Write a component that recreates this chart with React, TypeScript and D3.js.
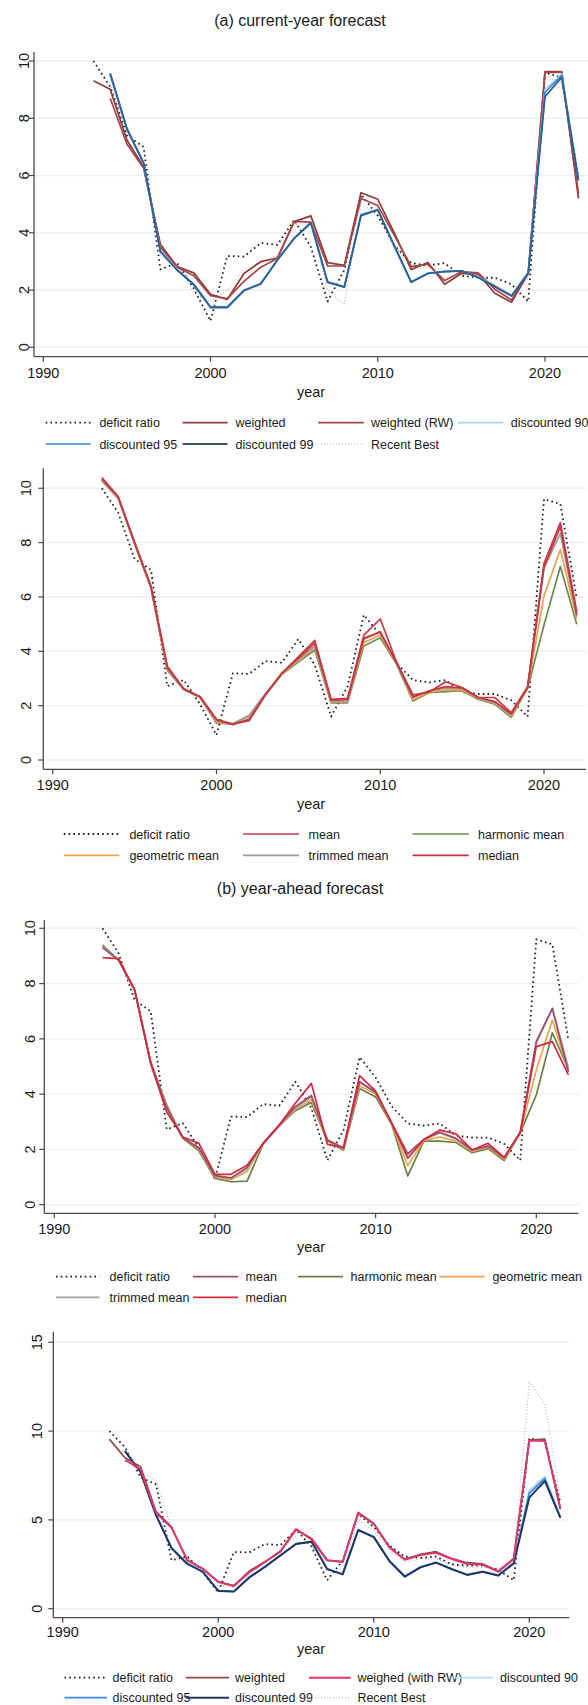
import React from "react";
import * as d3 from "d3";

const years = d3.range(1993, 2023);

const deficitRatio = [10.0, 9.1, 7.4, 7.0, 2.72, 2.95, 2.05, 0.92, 3.19, 3.17, 3.64, 3.58, 4.45, 3.5, 1.6, 2.7, 5.34, 4.6, 3.56, 2.94, 2.86, 2.94, 2.5, 2.43, 2.43, 2.2, 1.6, 9.6, 9.42, 5.95];

// (a) current-year forecast — panel 1
const cyWeighted = [9.31, 9.01, 7.24, 6.3, 3.6, 2.82, 2.6, 1.85, 1.67, 2.58, 2.99, 3.12, 4.39, 4.59, 2.96, 2.86, 5.4, 5.17, 3.98, 2.72, 2.96, 2.2, 2.58, 2.56, 1.89, 1.57, 2.58, 9.63, 9.63, 5.2];
const cyWeightedRW = [null, 8.7, 7.1, 6.25, 3.5, 2.8, 2.5, 1.8, 1.7, 2.3, 2.8, 3.1, 4.4, 4.37, 2.84, 2.84, 5.2, 4.95, 3.9, 2.82, 2.9, 2.33, 2.64, 2.6, 2.03, 1.65, 2.62, 9.6, 9.6, 5.38];
const cyDisc90 = [null, 9.5, 7.6, 6.4, 3.38, 2.72, 2.22, 1.43, 1.42, 2.0, 2.24, 3.06, 3.8, 4.34, 2.3, 2.12, 4.65, 4.82, 3.55, 2.3, 2.6, 2.65, 2.67, 2.46, 2.15, 1.82, 2.62, 9.0, 9.55, 5.88];
const cyDisc95 = [null, 9.55, 7.62, 6.42, 3.36, 2.7, 2.2, 1.41, 1.4, 1.99, 2.22, 3.05, 3.8, 4.35, 2.28, 2.11, 4.62, 4.8, 3.53, 2.28, 2.58, 2.64, 2.67, 2.45, 2.13, 1.8, 2.6, 8.9, 9.5, 5.85];
const cyDisc99 = [null, 9.57, 7.65, 6.43, 3.34, 2.7, 2.18, 1.39, 1.39, 1.98, 2.21, 3.05, 3.81, 4.35, 2.27, 2.1, 4.6, 4.8, 3.52, 2.27, 2.58, 2.64, 2.67, 2.44, 2.12, 1.79, 2.58, 8.75, 9.43, 5.82];
const cyRecentBest = [null, 9.2, 7.5, 6.6, 3.2, 2.9, 1.9, 1.6, 2.0, 2.7, 3.0, 3.2, 4.3, 4.3, 2.0, 1.5, 5.0, 4.6, 3.6, 2.7, 2.8, 2.7, 2.6, 2.5, 2.2, 1.8, 2.4, 9.5, 9.2, 5.9];

// (a) current-year forecast — panel 2
const cyMean = [10.4, 9.7, 8.0, 6.4, 3.45, 2.62, 2.33, 1.5, 1.32, 1.45, 2.4, 3.2, 3.8, 4.4, 2.23, 2.27, 4.6, 5.19, 3.6, 2.4, 2.5, 2.88, 2.67, 2.3, 2.3, 1.74, 2.7, 7.24, 8.74, 5.46];
const cyHarmonic = [10.28, 9.63, 7.96, 6.33, 3.3, 2.59, 2.3, 1.35, 1.33, 1.6, 2.4, 3.15, 3.6, 4.05, 2.1, 2.1, 4.2, 4.5, 3.52, 2.17, 2.48, 2.52, 2.55, 2.23, 2.05, 1.57, 2.64, 4.97, 7.12, 5.0];
const cyGeometric = [10.3, 9.65, 7.98, 6.35, 3.32, 2.6, 2.31, 1.38, 1.33, 1.62, 2.43, 3.17, 3.65, 4.15, 2.13, 2.13, 4.32, 4.6, 3.55, 2.22, 2.5, 2.58, 2.58, 2.26, 2.08, 1.62, 2.66, 6.04, 7.75, 5.2];
const cyTrimmed = [10.3, 9.65, 7.98, 6.35, 3.35, 2.6, 2.32, 1.42, 1.33, 1.65, 2.45, 3.18, 3.7, 4.2, 2.15, 2.15, 4.45, 4.69, 3.56, 2.3, 2.55, 2.64, 2.64, 2.28, 2.1, 1.66, 2.68, 7.06, 8.34, 5.3];
const cyMedian = [10.35, 9.68, 8.0, 6.38, 3.4, 2.62, 2.33, 1.48, 1.3, 1.5, 2.42, 3.2, 3.75, 4.3, 2.2, 2.22, 4.48, 4.72, 3.58, 2.32, 2.55, 2.7, 2.65, 2.3, 2.15, 1.7, 2.68, 7.1, 8.6, 5.35];

// (b) year-ahead forecast — panel 3
const yaMean = [9.3, 8.85, 7.77, 5.15, 3.5, 2.42, 2.05, 1.05, 0.97, 1.35, 2.22, 2.88, 3.55, 3.95, 2.33, 2.05, 4.45, 4.07, 2.95, 1.85, 2.36, 2.62, 2.4, 1.98, 2.12, 1.7, 2.62, 5.9, 7.1, 4.8];
const yaHarmonic = [9.4, 8.85, 7.77, 5.15, 3.6, 2.4, 1.95, 0.95, 0.83, 0.85, 2.2, 2.85, 3.4, 3.7, 2.3, 1.97, 4.2, 3.9, 2.9, 1.04, 2.3, 2.3, 2.25, 1.88, 2.03, 1.6, 2.6, 3.97, 6.22, 4.9];
const yaGeometric = [9.35, 8.85, 7.77, 5.15, 3.55, 2.42, 2.0, 1.0, 0.9, 1.2, 2.22, 2.87, 3.45, 3.8, 2.32, 2.0, 4.3, 4.0, 2.92, 1.41, 2.33, 2.45, 2.3, 1.93, 2.08, 1.65, 2.6, 4.87, 6.68, 4.85];
const yaTrimmed = [9.35, 8.85, 7.77, 5.15, 3.5, 2.42, 2.05, 1.03, 0.95, 1.3, 2.22, 2.88, 3.5, 3.9, 2.36, 2.05, 4.43, 4.05, 2.95, 1.8, 2.36, 2.6, 2.38, 1.98, 2.12, 1.7, 2.62, 5.86, 7.1, 4.95];
const yaMedian = [8.94, 8.9, 7.77, 5.1, 3.35, 2.45, 2.22, 1.1, 1.1, 1.43, 2.22, 2.88, 3.67, 4.39, 2.18, 2.06, 4.67, 4.11, 2.95, 1.68, 2.36, 2.7, 2.56, 1.98, 2.22, 1.71, 2.6, 5.72, 5.9, 4.7];

// (b) year-ahead forecast — panel 4
const yaWeighted = [9.55, 8.5, 8.0, 5.46, 4.6, 2.72, 2.27, 1.52, 1.3, 2.12, 2.65, 3.2, 4.45, 3.96, 2.74, 2.65, 5.42, 4.8, 3.49, 2.78, 3.06, 3.21, 2.83, 2.59, 2.52, 2.12, 2.83, 9.5, 9.55, 5.65];
const yaWeightedRW = [null, 8.37, 7.86, 5.4, 4.55, 2.75, 2.25, 1.5, 1.28, 2.05, 2.62, 3.25, 4.48, 3.9, 2.72, 2.62, 5.38, 4.78, 3.45, 2.75, 3.02, 3.15, 2.8, 2.52, 2.48, 2.08, 2.8, 9.45, 9.45, 5.6];
const yaDisc90 = [null, 8.9, 7.72, 5.3, 3.45, 2.55, 2.1, 1.02, 0.98, 1.78, 2.38, 3.02, 3.66, 3.8, 2.26, 1.96, 4.45, 4.06, 2.72, 1.84, 2.36, 2.62, 2.26, 1.93, 2.1, 1.9, 2.6, 6.68, 7.43, 5.14];
const yaDisc95 = [null, 8.88, 7.71, 5.28, 3.42, 2.54, 2.09, 1.01, 0.97, 1.77, 2.37, 3.01, 3.65, 3.78, 2.24, 1.94, 4.44, 4.05, 2.7, 1.82, 2.34, 2.6, 2.24, 1.91, 2.09, 1.88, 2.57, 6.5, 7.34, 5.13];
const yaDisc99 = [null, 8.87, 7.7, 5.27, 3.4, 2.53, 2.08, 1.0, 0.96, 1.76, 2.35, 3.0, 3.64, 3.77, 2.23, 1.93, 4.43, 4.03, 2.68, 1.8, 2.33, 2.59, 2.23, 1.9, 2.08, 1.86, 2.55, 6.25, 7.19, 5.12];
const yaRecentBest = [null, 8.9, 7.8, 7.2, 4.5, 2.9, 2.2, 1.3, 1.2, 1.9, 2.6, 3.3, 4.1, 4.5, 2.2, 2.1, 5.0, 4.4, 3.3, 2.6, 2.8, 2.8, 2.5, 2.3, 2.3, 2.3, 2.6, 12.8, 11.5, 6.2];

const xTicks = [1990, 2000, 2010, 2020];
const yTicks10 = [0, 2, 4, 6, 8, 10];
const yTicks15 = [0, 5, 10, 15];

const FONT = "'Liberation Sans', Arial, Helvetica, sans-serif";

type Style = { color: string; width: number; dash?: string };
type Series = { label: string; values: (number | null)[]; style: Style };

const S = {
  deficit: { color: "#1e1e1e", width: 1.8, dash: "1.6 3.2" },
  recent: { color: "#bdbdbd", width: 1.2, dash: "1 2" },
};

type PanelCfg = {
  x0: number; x2020: number; xAxisY: number; yAxisX: number; axisTop: number; right: number;
  yDomain: [number, number]; yBottom: number; yTop: number; yTicks: number[];
  yLabelX: number; xLabelY: number; yearY: number;
  series: Series[];
  legend: { rows: number[]; cols: [number, number, number][]; items: Series[] };
};

function Panel({ cfg }: { cfg: PanelCfg }) {
  const x = d3.scaleLinear().domain([1990, 2020]).range([cfg.x0, cfg.x2020]);
  const y = d3.scaleLinear().domain(cfg.yDomain).range([cfg.yBottom, cfg.yTop]);
  const line = d3
    .line<number | null>()
    .defined((d) => d != null)
    .x((_, i) => x(years[i]))
    .y((d) => y(d as number));
  return (
    <g>
      {cfg.yTicks.map((t) => (
        <line key={"g" + t} x1={cfg.yAxisX} x2={cfg.right} y1={y(t)} y2={y(t)} stroke="#eceff3" strokeWidth={1.4} />
      ))}
      {cfg.series.map((s) => (
        <path
          key={s.label}
          d={line(s.values) || ""}
          fill="none"
          stroke={s.style.color}
          strokeWidth={s.style.width}
          strokeDasharray={s.style.dash}
          strokeLinejoin="round"
        />
      ))}
      <line x1={cfg.yAxisX} x2={cfg.yAxisX} y1={cfg.axisTop} y2={cfg.xAxisY} stroke="#4a4a4a" strokeWidth={1.3} />
      <line x1={cfg.yAxisX} x2={cfg.right} y1={cfg.xAxisY} y2={cfg.xAxisY} stroke="#4a4a4a" strokeWidth={1.3} />
      {cfg.yTicks.map((t) => (
        <g key={"y" + t}>
          <line x1={cfg.yAxisX - 5} x2={cfg.yAxisX} y1={y(t)} y2={y(t)} stroke="#4a4a4a" strokeWidth={1.2} />
          <text
            transform={`translate(${cfg.yLabelX},${y(t)}) rotate(-90)`}
            textAnchor="middle"
            dy="0.36em"
            fontSize={14.5}
            fill="#1a1a1a"
            fontFamily={FONT}
          >
            {t}
          </text>
        </g>
      ))}
      {xTicks.map((t) => (
        <g key={"x" + t}>
          <line x1={x(t)} x2={x(t)} y1={cfg.xAxisY} y2={cfg.xAxisY + 5} stroke="#4a4a4a" strokeWidth={1.2} />
          <text x={x(t)} y={cfg.xLabelY} dy="0.36em" textAnchor="middle" fontSize={14.5} fill="#1a1a1a" fontFamily={FONT}>
            {t}
          </text>
        </g>
      ))}
      <text x={311} y={cfg.yearY} dy="0.36em" textAnchor="middle" fontSize={14.5} fill="#1a1a1a" fontFamily={FONT}>
        year
      </text>
      {cfg.legend.items.map((s, i) => {
        const row = Math.floor(i / cfg.legend.cols.length);
        const col = i % cfg.legend.cols.length;
        const [lx1, lx2, tx] = cfg.legend.cols[col];
        const ly = cfg.legend.rows[row];
        return (
          <g key={"l" + s.label}>
            <line x1={lx1} x2={lx2} y1={ly} y2={ly} stroke={s.style.color} strokeWidth={s.style.width} strokeDasharray={s.style.dash} />
            <text x={tx} y={ly} dy="0.36em" fontSize={12.5} fill="#1a1a1a" fontFamily={FONT}>
              {s.label}
            </text>
          </g>
        );
      })}
    </g>
  );
}

const dr: Series = { label: "deficit ratio", values: deficitRatio, style: S.deficit };

const W = 1.7;

const p1Series: Series[] = [
  { label: "Recent Best", values: cyRecentBest, style: S.recent },
  dr,
  { label: "weighted", values: cyWeighted, style: { color: "#8e3b3d", width: W } },
  { label: "weighted (RW)", values: cyWeightedRW, style: { color: "#a54548", width: W } },
  { label: "discounted 90", values: cyDisc90, style: { color: "#a9d3e8", width: W } },
  { label: "discounted 95", values: cyDisc95, style: { color: "#3d87cc", width: W } },
  { label: "discounted 99", values: cyDisc99, style: { color: "#2f5f93", width: 1.8 } },
];
const p1Legend = [dr, p1Series[2], p1Series[3], p1Series[4], p1Series[5],
  { ...p1Series[6], style: { color: "#434f66", width: 2 } }, p1Series[0]];

const p2Series: Series[] = [
  dr,
  { label: "harmonic mean", values: cyHarmonic, style: { color: "#6f8a4c", width: W } },
  { label: "geometric mean", values: cyGeometric, style: { color: "#eba24f", width: W } },
  { label: "trimmed mean", values: cyTrimmed, style: { color: "#9a9a9a", width: W } },
  { label: "median", values: cyMedian, style: { color: "#c8323f", width: W } },
  { label: "mean", values: cyMean, style: { color: "#c63a44", width: W } },
];
const p2Legend = [dr, p2Series[5], p2Series[1], p2Series[2], p2Series[3], p2Series[4]];

const p3Series: Series[] = [
  dr,
  { label: "harmonic mean", values: yaHarmonic, style: { color: "#6b7f47", width: W } },
  { label: "geometric mean", values: yaGeometric, style: { color: "#eaa553", width: W } },
  { label: "trimmed mean", values: yaTrimmed, style: { color: "#a0a0a0", width: W } },
  { label: "mean", values: yaMean, style: { color: "#9c4f6a", width: W } },
  { label: "median", values: yaMedian, style: { color: "#d4283f", width: W } },
];
const p3Legend = [dr, p3Series[4], p3Series[1], p3Series[2], p3Series[3], p3Series[5]];

const p4Series: Series[] = [
  { label: "Recent Best", values: yaRecentBest, style: S.recent },
  dr,
  { label: "discounted 90", values: yaDisc90, style: { color: "#b6dcf2", width: 1.8 } },
  { label: "discounted 95", values: yaDisc95, style: { color: "#3b8be0", width: 1.8 } },
  { label: "discounted 99", values: yaDisc99, style: { color: "#23355e", width: 1.9 } },
  { label: "weighted", values: yaWeighted, style: { color: "#8b4a4c", width: W } },
  { label: "weighed (with RW)", values: yaWeightedRW, style: { color: "#e0356b", width: 1.9 } },
];
const p4Legend = [dr, p4Series[5], p4Series[6], p4Series[2], p4Series[3], p4Series[4], p4Series[0]];

const panels: PanelCfg[] = [
  {
    x0: 43.3, x2020: 545, xAxisY: 356.7, yAxisX: 34, axisTop: 51.7, right: 588,
    yDomain: [0, 10], yBottom: 347.3, yTop: 61, yTicks: yTicks10,
    yLabelX: 24, xLabelY: 373, yearY: 391.7,
    series: p1Series,
    legend: { rows: [422.7, 444], cols: [[45.7, 90.7, 99.4], [182.6, 227.6, 235.5], [318, 363.7, 371], [458, 503, 510.7]], items: p1Legend },
  },
  {
    x0: 52.7, x2020: 544, xAxisY: 769.3, yAxisX: 43.3, axisTop: 468.3, right: 586,
    yDomain: [0, 10], yBottom: 760, yTop: 488.3, yTicks: yTicks10,
    yLabelX: 25.7, xLabelY: 785, yearY: 803.3,
    series: p2Series,
    legend: { rows: [834, 855.3], cols: [[63.75, 119.25, 129.4], [243, 299, 308.6], [412.5, 468.75, 478]], items: p2Legend },
  },
  {
    x0: 54.3, x2020: 536.3, xAxisY: 1213.3, yAxisX: 44.3, axisTop: 920, right: 578.3,
    yDomain: [0, 10], yBottom: 1204.7, yTop: 928.3, yTicks: yTicks10,
    yLabelX: 30, xLabelY: 1229, yearY: 1246.7,
    series: p3Series,
    legend: { rows: [1276.7, 1297.3], cols: [[56, 99.4, 109.5], [193, 238, 245.6], [298, 343, 350.6], [439.5, 484.5, 492.4]], items: p3Legend },
  },
  {
    x0: 62.7, x2020: 529.3, xAxisY: 1617.7, yAxisX: 53.3, axisTop: 1331.7, right: 569.3,
    yDomain: [0, 15], yBottom: 1608.7, yTop: 1342.3, yTicks: yTicks15,
    yLabelX: 36.7, xLabelY: 1631.7, yearY: 1648.3,
    series: p4Series,
    legend: { rows: [1677.7, 1697.7], cols: [[64.5, 106.9, 112.5], [186, 229, 235], [309, 350.6, 357.4], [452, 493, 500]], items: p4Legend },
  },
];

export default function App() {
  return (
    <svg
      width={588}
      height={1705}
      viewBox="0 0 588 1705"
      style={{ position: "absolute", left: 0, top: 0, background: "#fff", display: "block" }}
    >
      <rect width={588} height={1705} fill="#fff" />
      <text x={300} y={20} dy="0.36em" textAnchor="middle" fontSize={16} fill="#1a1a1a" fontFamily={FONT}>
        (a) current-year forecast
      </text>
      <text x={300} y={888.3} dy="0.36em" textAnchor="middle" fontSize={16} fill="#1a1a1a" fontFamily={FONT}>
        (b) year-ahead forecast
      </text>
      {panels.map((p, i) => (
        <Panel key={i} cfg={p} />
      ))}
    </svg>
  );
}
